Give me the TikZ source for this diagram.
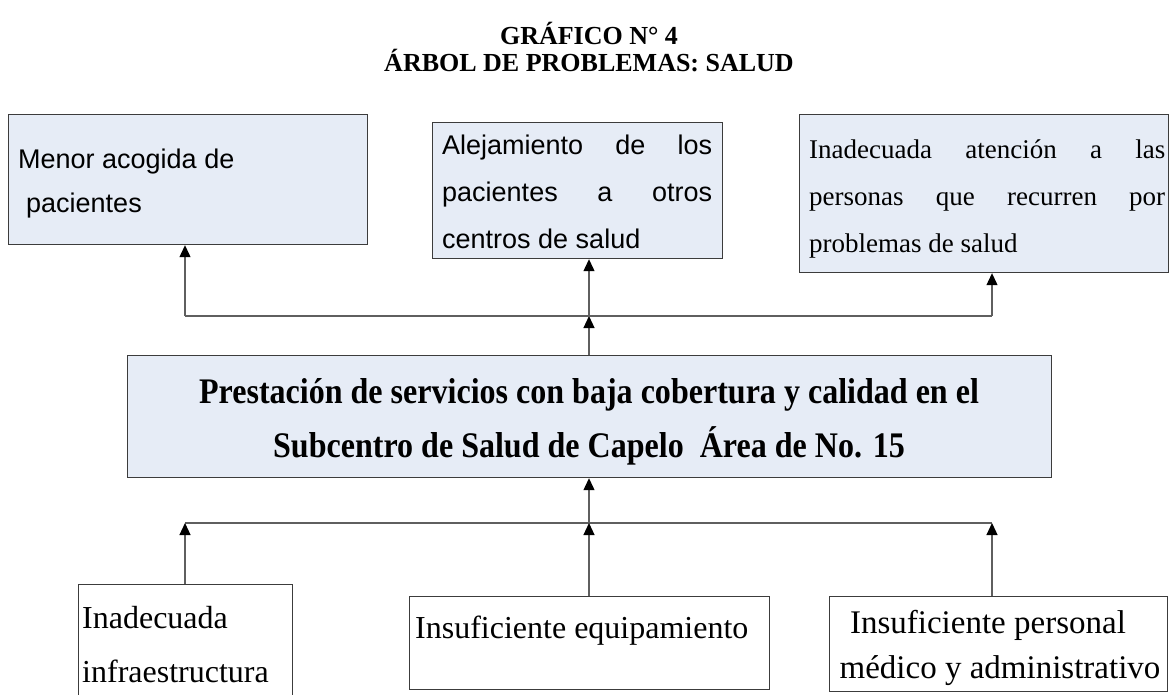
\documentclass[tikz,border=0pt]{standalone}
\usepackage{fontspec}
\usepackage{graphicx}
\setmainfont{Liberation Serif}
\newfontfamily\arialf{Liberation Sans}
\usetikzlibrary{arrows.meta,calc}
\definecolor{boxfill}{RGB}{230,236,246}
\definecolor{boxline}{RGB}{60,60,60}
\definecolor{connline}{RGB}{95,95,95}
\tikzset{
  box/.style={draw=boxline,line width=1.2pt,rectangle,inner sep=0pt,anchor=north west},
  effectbox/.style={box,fill=boxfill},
  causebox/.style={box,fill=white},
  txt/.style={inner sep=0pt,anchor=base west},
  ctxt/.style={inner sep=0pt,anchor=base},
  sansf/.style={font={\arialf\fontsize{27pt}{27pt}\selectfont}},
  serf/.style={font={\fontsize{27pt}{27pt}\selectfont}},
  bigserf/.style={font={\fontsize{32pt}{32pt}\selectfont}},
  conn/.style={draw=connline,line width=1.2pt},
  arr/.style={conn,-{Triangle[length=12pt,width=11pt,color=black]}},
}
\begin{document}
\begin{tikzpicture}[x=1pt,y=-1pt]
\useasboundingbox (0,0) rectangle (1169,694);
\clip (0,0) rectangle (1169,694);

% title
\node[ctxt,font={\fontsize{26pt}{26pt}\selectfont\bfseries}] (title1) at (589,44) {GRÁFICO N° 4};
\node[ctxt,font={\fontsize{26pt}{26pt}\selectfont\bfseries}] (title2) at (589,71) {ÁRBOL DE PROBLEMAS: SALUD};

% effect boxes
\node[effectbox,minimum width=359pt,minimum height=130pt] (e1) at (8,114) {};
\node[txt,sansf] (e1a) at (18,168) {Menor acogida de};
\node[txt,sansf] (e1b) at (26,212) {pacientes};

\node[effectbox,minimum width=290pt,minimum height=136pt] (e2) at (432,122) {};
\node[txt,sansf] (e2a) at (442,154) {\makebox[270pt][s]{Alejamiento de los}};
\node[txt,sansf] (e2b) at (442,201) {\makebox[270pt][s]{pacientes a otros}};
\node[txt,sansf] (e2c) at (442,248) {centros de salud};

\node[effectbox,minimum width=369pt,minimum height=158pt] (e3) at (799,114) {};
\node[txt,serf] (e3a) at (809,158) {\makebox[356pt][s]{Inadecuada atención a las}};
\node[txt,serf] (e3b) at (809,205) {\makebox[356pt][s]{personas que recurren por}};
\node[txt,serf] (e3c) at (809,252) {problemas de salud};

% central problem
\node[effectbox,minimum width=924pt,minimum height=122pt] (core) at (127,355) {};
\node[ctxt] (corea) at (589,403) {\scalebox{0.89}[1]{\fontsize{36pt}{36pt}\selectfont\bfseries Prestación de servicios con baja cobertura y calidad en el}};
\node[ctxt] (coreb) at (589,457) {\scalebox{0.89}[1]{\fontsize{36pt}{36pt}\selectfont\bfseries Subcentro de Salud de Capelo\ \ Área de No. 15}};

% cause boxes
\node[causebox,minimum width=214pt,minimum height=140pt] (c1) at (78,584) {};
\node[txt,bigserf] (c1a) at (82,628) {Inadecuada};
\node[txt,bigserf] (c1b) at (82,682) {infraestructura};

\node[causebox,minimum width=360pt,minimum height=93pt] (c2) at (409,596) {};
\node[txt,bigserf] (c2a) at (415,638) {Insuficiente equipamiento};

\node[causebox,minimum width=338pt,minimum height=95pt] (c3) at (829,596) {};
\node[ctxt,font={\fontsize{33pt}{33pt}\selectfont}] (c3a) at (988,633) {Insuficiente personal};
\node[ctxt,font={\fontsize{33pt}{33pt}\selectfont}] (c3b) at (1000,678) {médico y administrativo};

% junction coordinates
\coordinate (tl) at (185,316);
\coordinate (tm) at (589,316);
\coordinate (tr) at (992,316);
\coordinate (bl) at (185,523);
\coordinate (bm) at (589,523);
\coordinate (br) at (992,523);

% upper connectors
\draw[arr] (core.north -| tm) -- (tm);
\draw[conn] (tl) -- (tr);
\draw[arr] (tl) -- (tl |- e1.south);
\draw[arr] (tm) -- (tm |- e2.south);
\draw[arr] (tr) -- (tr |- e3.south);

% lower connectors
\draw[conn] (bl) -- (br);
\draw[arr] (bm) -- (bm |- core.south);
\draw[arr] (bl |- c1.north) -- (bl);
\draw[arr] (bm |- c2.north) -- (bm);
\draw[arr] (br |- c3.north) -- (br);
\end{tikzpicture}
\end{document}
